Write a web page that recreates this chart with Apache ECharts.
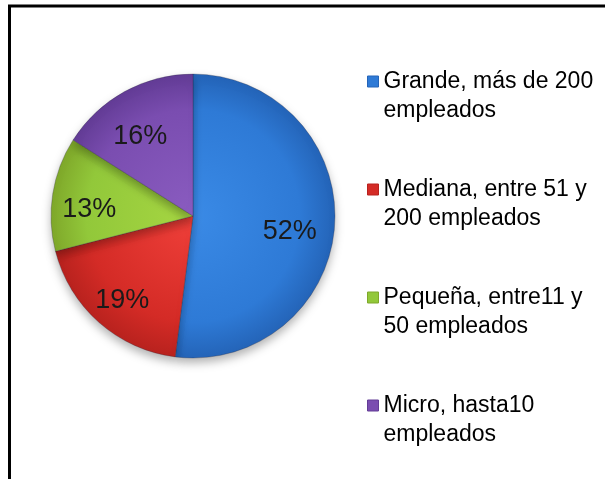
<!DOCTYPE html>
<html>
<head>
<meta charset="utf-8">
<script src="https://cdn.jsdelivr.net/npm/echarts@6/dist/echarts.min.js"></script>
<style>
  html, body { margin: 0; padding: 0; background: #fff; }
  #chart { width: 605px; height: 479px; }
</style>
</head>
<body>
<div id="chart"></div>
<script>
// data
var categories = ['Grande, más de 200 empleados', 'Mediana, entre 51 y 200 empleados', 'Pequeña, entre11 y 50 empleados', 'Micro, hasta10 empleados'];
var legendLines = ['Grande, más de 200\nempleados', 'Mediana, entre 51 y\n200 empleados', 'Pequeña, entre11 y\n50 empleados', 'Micro, hasta10\nempleados'];
var shares = [52, 19, 13, 16];
var colorsLight = ['#3a8ae6', '#f0403a', '#a6d642', '#8a5cc0'];
var colorsDark = ['#2464b8', '#b8221e', '#7fa82a', '#633c96'];
var colorsFlat = ['#2e7ad6', '#d42b26', '#92c83a', '#7a4db0'];

var cx = 193, cy = 216, R = 142;

var chart = echarts.init(document.getElementById('chart'));

function shade(i) {
    return {
        type: 'radial', x: cx, y: cy, r: R, global: true,
        colorStops: [
            { offset: 0, color: colorsLight[i] },
            { offset: 0.75, color: colorsFlat[i] },
            { offset: 1, color: colorsDark[i] }
        ]
    };
}

var pieData = categories.map(function (name, i) {
    return { name: name, value: shares[i], itemStyle: { color: shade(i) } };
});
var labelData = categories.map(function (name, i) {
    return { name: name, value: shares[i] };
});

var option = {
    animation: false,
    legend: {
        orient: 'vertical',
        left: 362,
        top: 33,
        itemWidth: 11,
        itemHeight: 11,
        itemGap: 21,
        icon: 'rect',
        selectedMode: false,
        data: categories.map(function (name, i) {
            return { name: name, itemStyle: { color: colorsFlat[i], borderColor: colorsDark[i], borderWidth: 1 } };
        }),
        // leading blank line so the icon sits beside the first text line
        formatter: function (name) {
            return '\n' + legendLines[categories.indexOf(name)];
        },
        textStyle: {
            fontFamily: 'Liberation Sans',
            fontSize: 23,
            color: '#000',
            lineHeight: 29
        }
    },
    series: [
        {
            type: 'pie',
            center: [cx, cy],
            radius: [0, R],
            startAngle: 90,
            clockwise: true,
            silent: true,
            label: { show: false },
            labelLine: { show: false },
            itemStyle: {
                borderColor: 'rgba(40,40,60,0.35)',
                borderWidth: 0.8,
                shadowBlur: 10,
                shadowOffsetY: 5,
                shadowColor: 'rgba(0,0,0,0.3)'
            },
            data: pieData
        },
        {
            // transparent copy, only used to place the percentage labels
            type: 'pie',
            center: [cx, cy],
            radius: [0, 196],
            startAngle: 90,
            clockwise: true,
            silent: true,
            itemStyle: { color: 'rgba(0,0,0,0)' },
            labelLine: { show: false },
            label: {
                show: true,
                position: 'inside',
                formatter: '{c}%',
                fontFamily: 'Liberation Sans',
                fontSize: 27,
                color: '#1a1a1a',
                offset: [-4, 9]
            },
            data: labelData
        }
    ],
    graphic: [
        {
            type: 'polyline',
            shape: { points: [[9.5, 479], [9.5, 6], [605, 6]] },
            style: { stroke: '#000', lineWidth: 3, fill: null }
        }
    ]
};
chart.setOption(option);
</script>
</body>
</html>
